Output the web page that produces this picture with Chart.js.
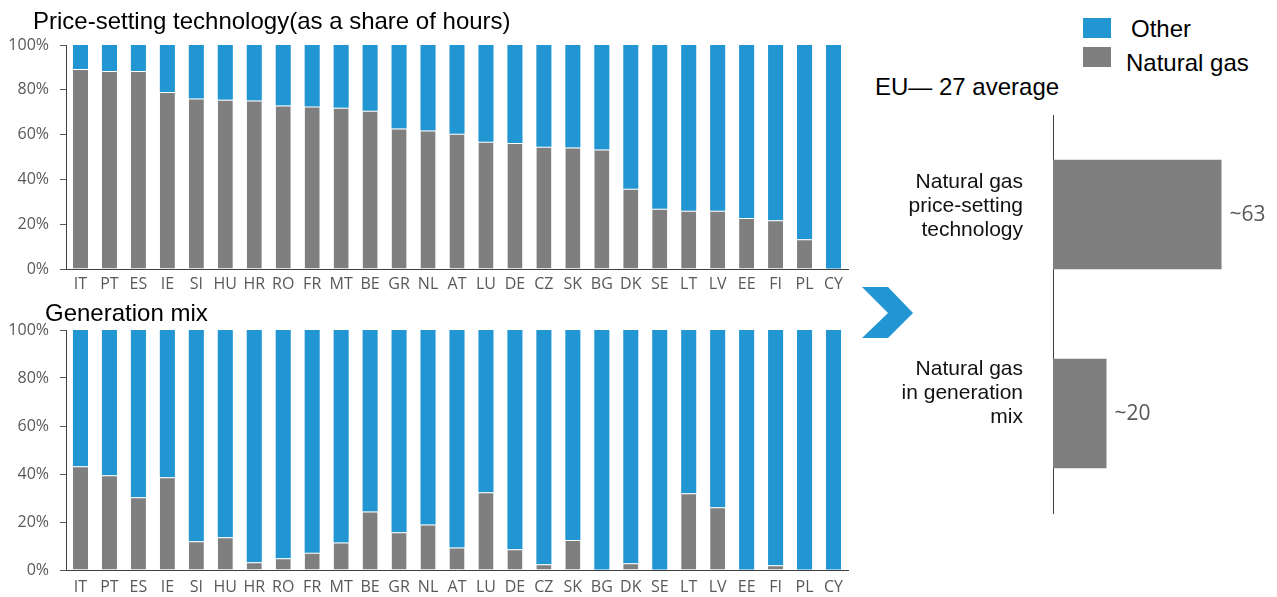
<!DOCTYPE html>
<html><head><meta charset="utf-8">
<script src="https://cdn.jsdelivr.net/npm/chart.js@4.4.1/dist/chart.umd.min.js"></script>
<style>
html,body{margin:0;padding:0;background:#fff;width:1277px;height:597px;overflow:hidden;position:relative;font-family:"Liberation Sans",Arial,sans-serif;}
.box{position:absolute;}
.txt{position:absolute;line-height:1;white-space:nowrap;color:#000;}
canvas{display:block;}
</style></head><body>

<div class="box" style="left:0;top:0;width:860px;height:300px"><canvas id="cTop" width="860" height="300" style="width:860px;height:300px"></canvas></div>
<div class="box" style="left:0;top:300px;width:860px;height:297px"><canvas id="cBot" width="860" height="297" style="width:860px;height:297px"></canvas></div>
<div class="box" style="left:860px;top:100px;width:417px;height:430px"><canvas id="cAvg" width="417" height="430" style="width:417px;height:430px"></canvas></div>

<div class="txt" style="left:33px;top:9px;font-size:24px;">Price-setting technology(as a share of hours)</div>
<div class="txt" style="left:45px;top:301px;font-size:24px;">Generation mix</div>
<div class="txt" style="left:875px;top:75px;font-size:24px;">EU— 27 average</div>

<div class="box" style="left:1083px;top:18px;width:28px;height:20px;background:#2196d3"></div>
<div class="box" style="left:1083px;top:47px;width:28px;height:20px;background:#7f7f7f"></div>
<div class="txt" style="left:1131px;top:17px;font-size:24px;">Other</div>
<div class="txt" style="left:1126px;top:51px;font-size:24px;">Natural gas</div>

<svg class="box" style="left:0;top:0" width="1277" height="597" viewBox="0 0 1277 597">
  <polygon points="862,287 888,287 913,313 888,338 862,338 888,313" fill="#2196d3"/>
</svg>

<script>
const countries = ['IT','PT','ES','IE','SI','HU','HR','RO','FR','MT','BE','GR','NL','AT','LU','DE','CZ','SK','BG','DK','SE','LT','LV','EE','FI','PL','CY'];
const priceGas   = [89.3,88.4,88.4,79.0,76.1,75.6,75.2,73.0,72.5,72.0,70.7,62.7,61.8,60.4,56.8,56.3,54.6,54.2,53.3,35.8,26.9,26.0,26.0,22.8,21.8,13.3,0];
const priceOther = [10.7,11.6,11.6,21.0,23.9,24.4,24.8,27.0,27.5,28.0,29.3,37.3,38.2,39.6,43.2,43.7,45.4,45.8,46.7,64.2,73.1,74.0,74.0,77.2,78.2,86.7,100];
const genGas     = [43.2,39.5,30.3,38.6,12.0,13.6,3.2,4.9,7.2,11.5,24.4,15.7,19.0,9.4,32.4,8.6,2.4,12.5,0,2.8,0,32.0,26.1,0,2.0,0,0];
const genOther   = [56.8,60.5,69.7,61.4,88.0,86.4,96.8,95.1,92.8,88.5,75.6,84.3,81.0,90.6,67.6,91.4,97.6,87.5,100,97.2,100,68.0,73.9,100,98.0,100,100];
const yTicks     = [0,20,40,60,80,100];
const avgCategories = [['Natural gas','price-setting','technology'],['Natural gas','in generation','mix','']];
const avgValues  = [63,20];

const BLUE = '#2196d3', GREY = '#7f7f7f', TICK = '#595959', AXIS = '#404040';

function stackedConfig(gas, other, padTop, xHeight, xPad){
  return {
    type:'bar',
    data:{
      labels:countries,
      datasets:[
        {label:'Natural gas', data:gas, backgroundColor:GREY, borderColor:'rgba(255,255,255,0.85)', borderWidth:{top:1,left:0,right:0,bottom:0}, borderSkipped:false, barPercentage:0.52, categoryPercentage:1},
        {label:'Other', data:other, backgroundColor:BLUE, borderWidth:0, barPercentage:0.52, categoryPercentage:1}
      ]
    },
    options:{
      responsive:false, animation:false, devicePixelRatio:1,
      layout:{padding:{top:padTop,right:12,left:0,bottom:0}},
      plugins:{legend:{display:false}, tooltip:{enabled:false}},
      scales:{
        x:{stacked:true, grid:{display:false, drawTicks:false}, border:{display:true,color:AXIS,width:1},
           ticks:{color:TICK, padding:xPad, font:{family:'Open Sans', size:16}, maxRotation:0, autoSkip:false},
           afterFit(s){ s.height = xHeight; }},
        y:{stacked:true, min:0, max:100,
           grid:{display:true, drawOnChartArea:false, drawTicks:true, tickLength:6, color:TICK},
           border:{display:true,color:AXIS,width:1},
           afterBuildTicks(s){ s.ticks = yTicks.map(v=>({value:v})); },
           ticks:{color:TICK, padding:11, font:{family:'Open Sans', size:16}, callback:v=>v+'%'},
           afterFit(s){ s.width = 66; }}
      }
    }
  };
}

new Chart(document.getElementById('cTop'), stackedConfig(priceGas, priceOther, 45, 31, 6));
new Chart(document.getElementById('cBot'), stackedConfig(genGas, genOther, 30, 27, 8));

const valueLabels = {
  id:'valueLabels',
  afterDatasetsDraw(chart){
    const ctx = chart.ctx, meta = chart.getDatasetMeta(0);
    ctx.save();
    ctx.font = '21px "Open Sans"';
    ctx.fillStyle = TICK; ctx.textAlign = 'left'; ctx.textBaseline = 'middle';
    meta.data.forEach((bar,i)=>{ ctx.fillText('~'+chart.data.datasets[0].data[i], bar.x+8, bar.y+1); });
    ctx.restore();
  }
};

new Chart(document.getElementById('cAvg'), {
  type:'bar',
  data:{labels:avgCategories, datasets:[{label:'Natural gas', data:avgValues, backgroundColor:GREY, borderWidth:0, barPercentage:0.55, categoryPercentage:1}]},
  options:{
    indexAxis:'y', responsive:false, animation:false, devicePixelRatio:1,
    layout:{padding:{top:15,right:10,left:0,bottom:17}},
    plugins:{legend:{display:false}, tooltip:{enabled:false}},
    scales:{
      x:{display:false, min:0, max:80},
      y:{grid:{display:false, drawTicks:false}, border:{display:true,color:AXIS,width:1},
         ticks:{color:'#111', padding:30, labelOffset:-8, font:{family:'Liberation Sans', size:21, lineHeight:1.15}},
         afterFit(s){ s.width = 193; s.paddingTop = 0; s.paddingBottom = 0; }}
    }
  },
  plugins:[valueLabels]
});
</script>
</body></html>
